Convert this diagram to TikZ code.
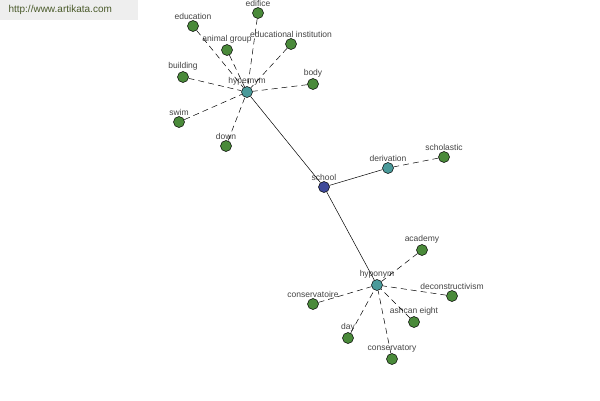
\documentclass[tikz,border=0pt]{standalone}
\usepackage{fontspec}
\setmainfont{Liberation Sans}
\usetikzlibrary{positioning}
\definecolor{rootc}{HTML}{3F4A9A}
\definecolor{relc}{HTML}{4A9A9A}
\definecolor{leafc}{HTML}{4A8A3A}
\definecolor{txtc}{HTML}{444444}
\definecolor{bannerc}{HTML}{EEEEEE}
\definecolor{urlc}{HTML}{4A5A2A}
\tikzset{
  dot/.style={circle,draw=black,line width=0.5pt,minimum size=11pt,inner sep=0pt,
    label={[font=\fontsize{8.5}{9}\selectfont,text=txtc,inner sep=0.5pt]above:#1}},
  root/.style={dot=#1,fill=rootc},
  rel/.style={dot=#1,fill=relc},
  leaf/.style={dot=#1,fill=leafc},
  tie/.style={draw=black,line width=0.5pt},
  loose/.style={draw=black,line width=0.5pt,dash pattern=on 6pt off 4pt},
}
\begin{document}
\begin{tikzpicture}[x=1pt,y=-1pt]
  \useasboundingbox[fill=white] (0,0) rectangle (600,400);
  \node[fill=bannerc,minimum width=138pt,minimum height=20pt,anchor=north west,inner sep=0pt]
    (banner) at (0,0) {};
  \node[font=\fontsize{10}{11}\selectfont,text=urlc,anchor=west] (url) at (5,10) {http://www.artikata.com};
  % centre and relations
  \node[root=school] (school) at (324,187) {};
  \node[rel=hypernym] (hyper) at (247,92) {};
  \node[rel=derivation] (deriv) at (388,168) {};
  \node[rel=hyponym] (hypo) at (377,285) {};
  % hypernym leaves
  \node[leaf=education] (educ) at (193,26) {};
  \node[leaf=edifice] (edif) at (258,13) {};
  \node[leaf=educational institution] (inst) at (291,44) {};
  \node[leaf=animal group] (anim) at (227,50) {};
  \node[leaf=building] (build) at (183,77) {};
  \node[leaf=body] (body) at (313,84) {};
  \node[leaf=swim] (swim) at (179,122) {};
  \node[leaf=down] (down) at (226,146) {};
  % derivation leaf
  \node[leaf=scholastic] (schol) at (444,157) {};
  % hyponym leaves
  \node[leaf=academy] (acad) at (422,250) {};
  \node[leaf=deconstructivism] (decon) at (452,296) {};
  \node[leaf=conservatoire] (consv) at (313,304) {};
  \node[leaf=ashcan eight] (ash) at (414,322) {};
  \node[leaf=day] (day) at (348,338) {};
  \node[leaf=conservatory] (consy) at (392,359) {};
  \draw[tie] (school)--(hyper); \draw[tie] (school)--(deriv); \draw[tie] (school)--(hypo);
  \foreach \l in {educ,edif,inst,anim,build,body,swim,down}
    \draw[loose] (\l)--(hyper);
  \draw[loose] (schol)--(deriv);
  \foreach \l in {acad,decon,consv,ash,day,consy}
    \draw[loose] (\l)--(hypo);
\end{tikzpicture}
\end{document}
